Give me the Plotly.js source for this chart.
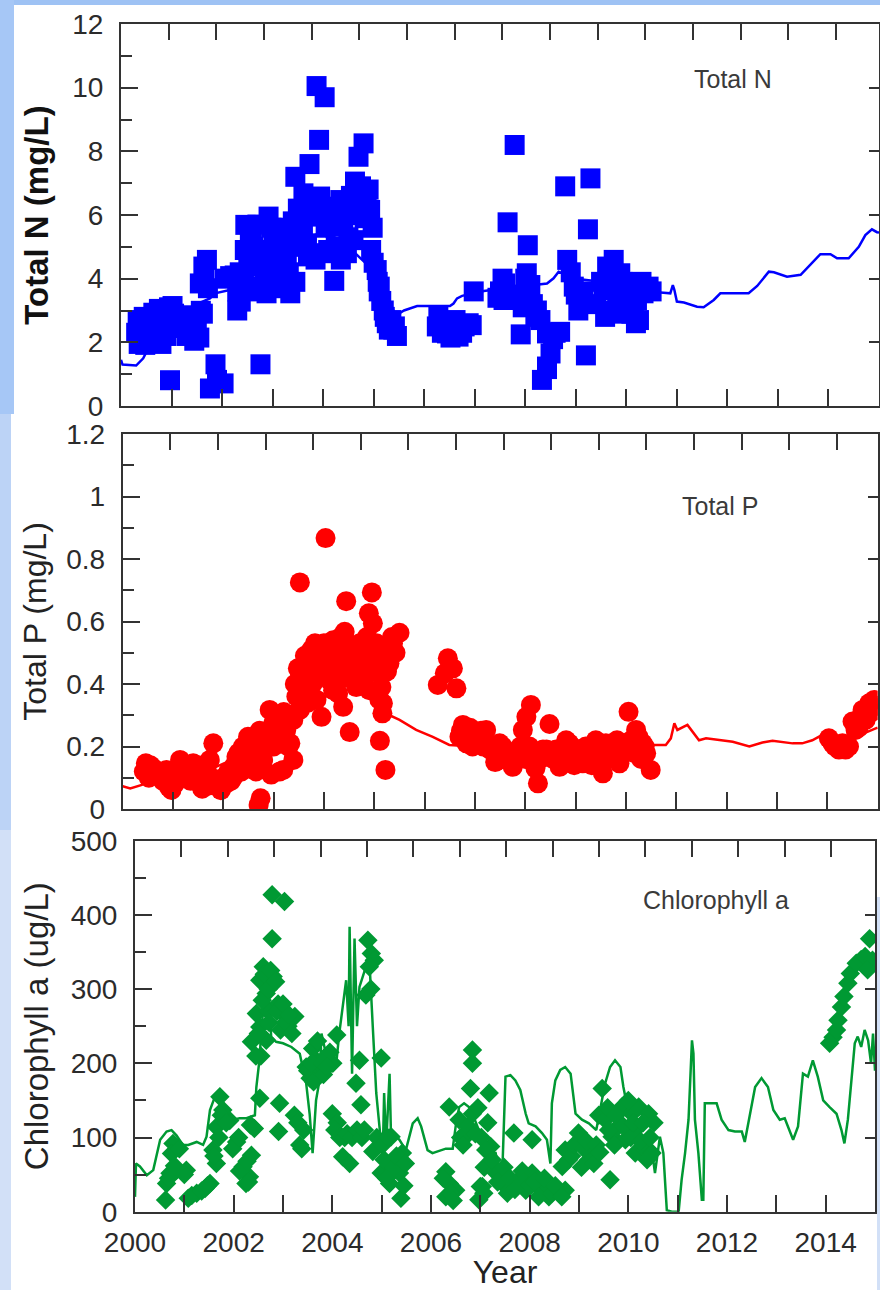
<!DOCTYPE html>
<html>
<head>
<meta charset="utf-8">
<script src="https://cdn.plot.ly/plotly-3.0.1.min.js"></script>
<style>html,body{margin:0;padding:0;background:#fff;}#chart{width:880px;height:1290px;}</style>
</head>
<body>
<div id="chart"></div>
<script>
// ---------------- Total N (mg/L) ----------------
const tnYear = [2000.35,2000.42,2000.48,2000.51,2000.58,2000.64,2000.66,2000.74,2000.8,2000.86,2000.95,2001.02,2001.08,2001.15,2001.22,2001.4,2001.45,2001.58,
  2000.3,2000.33,2000.38,2000.45,2000.55,2000.6,2000.7,2000.75,2000.9,2000.92,2001.0,2001.05,2001.12,2001.25,2001.3,2001.35,2001.5,2001.55,2001.62,
  2000.97,2001.87,2001.76,2001.9,2002.03,2002.76,
  2001.63,2001.56,2001.7,2002.16,2002.37,2001.65,2001.72,2002.05,2002.25,2002.3,
  2002.46,2002.92,2002.62,2003.02,2002.69,2003.08,2002.75,2003.35,2003.21,2003.48,2002.88,2003.15,2002.52,2002.42,2002.95,2003.28,2003.4,2002.59,
  2002.3,2002.35,2002.45,2002.5,2002.55,2002.65,2002.7,2002.8,2002.85,2002.98,2003.05,2003.12,2003.18,2003.25,2003.32,2003.38,2003.45,2003.5,2003.55,
  2003.45,2003.73,2003.87,2004.03,2003.92,2003.74,2003.81,2003.97,2003.68,2003.61,2003.94,2004.22,
  2003.65,2003.7,2003.8,2003.85,2004.0,2004.05,2004.1,2003.6,
  2004.34,2004.4,2004.47,2004.2,2004.6,2004.7,2004.8,2004.63,2004.86,2004.93,2004.73,2004.95,2005.06,2005.12,2005.1,2005.2,2005.26,2005.39,2005.46,
  2004.25,2004.3,2004.35,2004.45,2004.5,2004.55,2004.65,2004.75,2004.82,2004.9,2004.98,2005.0,2005.08,2005.15,2005.22,2005.3,2005.35,2005.42,
  2006.28,2006.45,2006.58,2006.68,2006.94,2006.35,2006.52,2006.8,2006.98,2006.25,2006.4,2006.6,2006.75,2006.88,2006.62,
  2007.6,2007.57,2007.5,2007.65,2007.79,2008.05,2008.03,2008.07,2008.23,2008.3,2007.91,2008.43,2008.69,2008.5,2008.43,2008.33,2008.43,
  2007.45,2007.55,2007.7,2007.85,2007.95,2008.0,2008.15,2008.2,2008.1,2008.55,2008.6,
  2008.79,2008.83,2008.96,2009.09,2009.29,2009.24,2009.2,2009.62,2009.75,2009.55,2009.58,2009.88,2009.95,2009.82,2010.19,2010.44,2010.34,2010.21,
  2008.9,2009.0,2009.05,2009.15,2009.4,2009.5,2009.65,2009.7,2009.78,2009.85,2009.92,2010.0,2010.05,2010.1,2010.15,2010.25,2010.3,2010.5];
const tnVal = [1.95,2.35,1.92,2.6,2.75,2.93,2.2,2.7,1.95,2.45,3.1,3.14,2.7,2.45,2.85,2.3,2.05,2.99,
  2.3,2.7,2.1,2.8,2.4,2.1,2.4,3.05,2.2,2.8,2.5,2.9,2.6,2.6,2.2,2.5,2.4,2.15,2.9,
  0.81,1.31,0.55,0.82,0.71,1.31,
  4.38,3.85,4.59,4.08,3.28,4.0,3.7,4.0,4.1,3.0,
  5.69,5.95,5.0,5.21,4.38,4.38,3.75,3.54,5.32,5.53,3.54,4.06,4.59,4.06,4.59,4.69,5.8,5.32,
  3.6,4.2,4.9,3.6,5.4,4.7,5.7,4.9,4.2,5.6,4.8,3.7,4.6,5.6,4.2,5.0,3.9,6.2,5.2,
  7.2,7.6,10.05,9.7,8.36,6.47,5.95,4.8,5.11,6.68,6.58,3.93,
  6.0,4.7,6.3,4.6,6.2,5.6,4.9,5.5,
  6.47,5.63,4.8,6.26,5.21,7.83,8.25,7.05,6.47,6.16,6.26,4.9,4.27,3.75,3.6,3.0,2.6,2.4,2.2,
  5.0,5.8,4.6,6.0,5.3,6.6,6.8,6.9,5.9,6.8,5.6,4.5,3.9,3.3,2.8,2.4,2.7,2.5,
  2.8,2.28,2.49,2.18,2.54,2.3,2.15,2.5,3.6,2.5,2.6,2.25,2.3,2.6,2.7,
  3.85,3.33,3.6,5.77,8.2,5.05,4.17,3.54,3.0,2.7,2.25,2.28,2.33,1.65,1.24,0.82,1.16,
  3.4,4.0,3.5,3.4,3.1,4.0,3.2,2.8,3.8,2.1,2.3,
  6.9,4.59,3.75,3.33,7.15,5.55,1.59,4.38,4.59,3.64,2.8,4.17,3.54,3.33,2.6,3.75,3.54,3.33,
  4.2,3.5,3.0,3.6,3.2,3.9,3.0,4.0,3.7,2.9,3.9,3.2,3.6,2.9,3.1,2.7,3.9,3.6];
const tnLineYear = [2000.0,2000.03,2000.3,2000.44,2000.6,2001.0,2001.5,2001.76,2001.86,2002.22,2002.3,2002.7,2003.2,2003.6,2003.74,2003.94,2004.14,2004.5,2004.9,2005.2,2005.45,2005.52,2005.6,2005.86,2006.51,2006.58,2006.65,2006.75,2007.18,2007.6,2008.1,2008.23,2008.43,2008.56,2008.66,2009.0,2009.5,2010.0,2010.4,2010.74,2010.87,2010.92,2010.95,2011.0,2011.14,2011.4,2011.53,2011.73,2011.86,2012.13,2012.42,2012.59,2012.82,2012.92,2013.18,2013.45,2013.64,2013.84,2014.04,2014.17,2014.4,2014.6,2014.73,2014.86,2014.96,2015.0];
const tnLineVal = [1.45,1.3,1.27,1.5,2.0,2.6,3.2,3.38,3.54,3.66,3.7,4.2,4.8,5.1,5.32,5.42,5.27,5.0,4.4,3.5,2.85,2.91,3.0,3.14,3.14,3.22,3.38,3.46,3.61,3.7,3.8,3.83,3.85,4.01,4.22,4.0,3.9,3.7,3.6,3.56,3.54,3.8,3.65,3.28,3.25,3.12,3.1,3.33,3.54,3.54,3.54,3.77,4.22,4.2,4.06,4.12,4.43,4.77,4.77,4.64,4.64,5.0,5.37,5.55,5.46,5.45];

// ---------------- Total P (mg/L) ----------------
const tpYear = [2000.46,2000.48,2000.61,2000.74,2000.87,2000.97,2001.04,2001.14,2001.24,2001.4,2001.53,2001.6,2001.67,2001.73,2001.8,2001.9,2002.06,2002.2,2002.26,2002.39,2002.49,2002.33,2002.59,2002.74,2002.7,
  2000.42,2000.52,2000.55,2000.67,2000.8,2000.92,2001.0,2001.1,2001.2,2001.3,2001.35,2001.45,2001.5,2001.58,2001.7,2001.85,2001.95,2002.0,2002.1,2002.15,2002.22,2002.3,2002.36,2002.42,2002.45,2002.52,2002.55,2002.62,2002.65,2002.68,2002.72,2002.82,2002.9,2002.95,2003.0,2003.02,2003.1,2003.12,2003.15,2003.2,2003.28,2003.33,
  2002.86,2002.79,2002.99,2002.92,2003.06,2003.19,2003.39,2003.29,2003.25,2003.39,2003.52,2003.52,2003.58,2003.45,2003.95,2003.82,2003.88,2004.05,2003.72,2003.78,
  2003.42,2003.48,2003.55,2003.62,2003.65,2003.68,2003.75,2003.8,2003.85,2003.9,2003.98,2004.0,2004.08,2004.12,2004.15,2004.22,2004.28,2004.33,2004.36,2004.45,2004.48,2004.55,2004.6,2004.68,2004.75,2004.8,2004.85,2004.9,2004.92,2005.0,2005.07,2005.1,2005.2,2005.25,2005.35,2005.42,
  2003.52,2004.03,2004.44,2004.51,2004.18,2004.41,2004.18,2004.38,2004.31,2004.25,2004.71,2004.78,2004.64,2004.95,2004.89,2004.97,2005.11,2005.22,2005.14,2005.17,2005.16,2005.04,2005.17,2005.3,2005.5,2005.37,2005.3,
  2006.46,2006.56,2006.63,2006.26,2006.4,2006.76,2006.83,2007.09,2007.16,2006.69,2006.72,2006.8,2006.9,2006.95,2007.02,2007.12,
  2007.19,2007.22,2007.62,2007.82,2008.08,2008.35,2007.49,2008.25,2008.11,2008.02,2007.95,2008.48,2008.61,2008.81,2008.68,2009.01,2009.14,2009.4,2009.54,2009.27,2009.73,2009.87,2010.05,2010.2,2010.33,2010.4,2010.49,2009.6,2008.87,2007.75,
  2007.3,2007.4,2007.55,2007.68,2007.9,2008.0,2008.15,2008.2,2008.3,2008.42,2008.55,2008.72,2008.78,2008.92,2008.97,2009.08,2009.2,2009.32,2009.45,2009.5,2009.65,2009.78,2009.82,2009.95,2010.1,2010.15,2010.25,2010.3,2010.37,
  2014.03,2014.23,2014.43,2014.3,2014.5,2014.7,2014.83,2014.93,2014.56,2014.76,2014.1,2014.15,2014.36,2014.62,2014.68,2014.88,2014.97];
const tpVal = [0.146,0.114,0.13,0.103,0.125,0.061,0.082,0.157,0.125,0.146,0.082,0.103,0.125,0.157,0.21,0.071,0.082,0.103,0.167,0.2,0.231,0.135,0.167,0.034,0.013,
  0.12,0.1,0.14,0.115,0.09,0.07,0.095,0.13,0.145,0.11,0.09,0.12,0.14,0.065,0.075,0.095,0.06,0.1,0.12,0.09,0.14,0.18,0.12,0.16,0.2,0.14,0.19,0.22,0.12,0.18,0.25,0.19,0.24,0.11,0.2,0.3,0.27,0.12,0.23,0.31,0.29,0.21,
  0.21,0.157,0.274,0.317,0.295,0.125,0.157,0.2,0.253,0.285,0.317,0.434,0.39,0.36,0.295,0.53,0.466,0.509,0.487,0.402,
  0.4,0.45,0.36,0.49,0.42,0.34,0.51,0.47,0.35,0.5,0.43,0.53,0.48,0.41,0.52,0.5,0.37,0.55,0.46,0.5,0.42,0.48,0.52,0.45,0.5,0.42,0.55,0.38,0.48,0.44,0.46,0.35,0.51,0.44,0.55,0.5,
  0.725,0.867,0.665,0.246,0.54,0.567,0.38,0.327,0.423,0.466,0.53,0.466,0.39,0.693,0.626,0.594,0.218,0.125,0.39,0.338,0.306,0.53,0.487,0.509,0.564,0.53,0.466,
  0.482,0.45,0.386,0.397,0.434,0.269,0.21,0.242,0.2,0.231,0.25,0.23,0.26,0.2,0.22,0.25,
  0.22,0.253,0.157,0.178,0.2,0.19,0.21,0.082,0.333,0.295,0.253,0.272,0.19,0.22,0.135,0.178,0.146,0.22,0.114,0.167,0.2,0.146,0.311,0.253,0.21,0.178,0.125,0.21,0.21,0.135,
  0.19,0.15,0.2,0.17,0.2,0.16,0.18,0.13,0.16,0.19,0.16,0.18,0.15,0.2,0.14,0.19,0.2,0.14,0.17,0.2,0.16,0.18,0.22,0.2,0.22,0.18,0.23,0.16,0.2,
  0.226,0.19,0.2,0.21,0.28,0.317,0.338,0.349,0.253,0.285,0.21,0.2,0.19,0.26,0.3,0.31,0.33];
const tpLineYear = [2000.0,2000.15,2000.38,2000.6,2001.5,2002.5,2003.0,2003.5,2004.0,2004.5,2005.0,2005.3,2005.5,2005.83,2006.16,2006.49,2007.0,2008.0,2009.0,2010.0,2010.56,2010.79,2010.89,2010.96,2011.02,2011.22,2011.45,2011.59,2011.85,2012.12,2012.45,2012.71,2012.91,2013.31,2013.5,2013.7,2013.9,2014.4,2014.96,2015.0];
const tpLineVal = [0.073,0.066,0.077,0.1,0.11,0.18,0.26,0.36,0.45,0.45,0.38,0.3,0.285,0.253,0.231,0.205,0.2,0.19,0.19,0.2,0.205,0.205,0.226,0.274,0.253,0.269,0.22,0.226,0.22,0.215,0.2,0.213,0.218,0.21,0.21,0.22,0.237,0.22,0.258,0.26];

// ---------------- Chlorophyll a (ug/L) ----------------
const chlYear = [2000.62,2000.71,2000.84,2000.64,2000.77,2000.74,2001.04,2001.08,2001.25,2001.42,2001.52,2001.58,2001.65,2001.72,2001.78,2001.65,2001.92,2002.06,2002.19,2002.32,2002.25,2002.36,2002.34,2002.53,
  2000.68,2000.8,2000.9,2001.0,2001.15,2001.35,2001.47,2001.6,2001.7,2001.75,2001.85,2001.98,2002.1,2002.12,2002.27,2002.3,2002.42,
  2002.36,2002.46,2002.53,2002.6,2002.8,2002.66,2002.53,2002.66,2002.78,2003.03,2002.78,2002.91,2002.93,2003.07,2003.24,2003.23,2003.34,2003.47,2003.67,2003.87,2004.01,2004.0,2004.09,
  2002.9,2003.1,2002.7,2002.55,2003.55,2003.75,2003.95,2003.6,2004.1,
  2002.45,2002.5,2002.58,2002.62,2002.7,2002.72,2002.75,2002.85,2002.88,2002.95,2003.0,2003.05,2003.12,2003.18,2003.3,2003.38,2003.42,2003.5,2003.58,2003.62,2003.7,2003.8,2003.82,2003.9,
  2004.21,2004.35,2004.48,2004.58,2004.55,2004.68,2004.72,2004.79,2004.85,2004.82,2004.99,2004.99,2005.16,2005.36,2005.42,2005.39,2005.19,
  2004.05,2004.15,2004.25,2004.3,2004.4,2004.5,2004.6,2004.65,2004.75,2004.78,2004.9,2005.02,2005.05,2005.1,2005.12,2005.25,2005.3,2005.45,2005.48,
  2006.3,2006.37,2006.3,2006.5,2006.37,2006.57,2006.7,2006.84,2006.84,2006.84,2006.8,2007.0,2006.97,2007.18,2007.21,
  2006.25,2006.4,2006.45,2006.6,2006.65,2006.75,2006.9,2006.95,2007.02,2007.08,2007.15,2007.28,
  2007.11,2007.24,2007.04,2007.07,2007.44,2007.51,2007.68,2007.78,2007.92,2008.05,2008.05,2008.25,2008.39,2008.59,2008.72,2008.72,2008.79,2008.66,2008.99,2009.2,2009.26,
  2007.35,2007.48,2007.55,2007.6,2007.7,2007.85,2007.88,2008.0,2008.1,2008.18,2008.3,2008.45,2008.52,2008.65,2008.85,2008.9,2009.05,2009.1,2009.15,2009.3,2009.35,2009.4,2009.42,
  2009.47,2009.53,2009.67,2009.8,2009.63,2009.87,2010.07,2010.21,2010.41,2009.94,2010.14,2010.14,2010.34,2010.48,
  2009.58,2009.6,2009.72,2009.75,2009.9,2010.0,2010.05,2010.1,2010.25,2010.3,2010.38,2010.44,2010.52,
  2014.08,2014.15,2014.22,2014.25,2014.32,2014.37,2014.45,2014.5,2014.62,2014.72,2014.8,2014.89,2014.95,2014.85];
const chlVal = [15.7,51.7,56,38,92,78.6,56,18,24.7,31.4,38,83,65,155,137,114,123,94,60.6,47,38,76,117,153,
  45,62,85,50,22,28,35,75,100,130,120,85,100,55,68,40,112,
  229,267,312,330,317,294,249,231,427,418,368,108,146,263,263,130,90,195,204,209,200,132,238,
  280,250,270,210,180,190,215,220,120,
  210,240,285,320,300,255,325,310,270,245,280,255,265,240,120,85,110,190,200,175,230,200,185,195,
  74,65,173,144,204,292,366,348,339,81,207,52,38,52,79,18,101,
  110,100,100,105,100,110,100,110,330,300,100,90,70,45,100,60,75,35,65,
  54,38,20,29,141,124,101,132,218,200,166,34,16,160,88,
  45,25,15,100,90,115,105,140,100,60,120,55,
  83,70,34,25,47,34,106,43,29,52,97,29,20,29,29,83,70,61,106,70,79,
  40,60,25,45,30,55,40,35,40,20,45,25,35,20,75,90,60,85,95,65,90,130,80,
  166,124,101,115,43,141,132,141,132,97,110,79,83,79,
  140,110,90,130,115,150,100,120,95,120,70,100,120,
  227,235,245,258,276,290,308,321,335,340,344,368,339,326];
const chlLineYear = [2000.0,2000.02,2000.1,2000.24,2000.37,2000.51,2000.64,2000.74,2000.84,2000.97,2001.08,2001.25,2001.38,2001.45,2001.52,2001.62,2001.72,2001.82,2001.99,2002.12,2002.26,2002.43,2002.46,2002.53,2002.56,2002.63,2002.7,2002.73,2002.76,2002.86,2003.0,2003.17,2003.34,2003.47,2003.54,2003.6,2003.67,2003.74,2003.78,2003.87,2004.0,2004.08,2004.14,2004.28,2004.33,2004.35,2004.4,2004.45,2004.5,2004.55,2004.68,2004.75,2004.82,2004.89,2005.02,2005.05,2005.09,2005.16,2005.19,2005.22,2005.36,2005.49,2005.63,2005.73,2005.8,2005.93,2006.03,2006.3,2006.44,2006.5,2006.57,2006.67,2006.77,2006.84,2006.97,2007.11,2007.21,2007.31,2007.38,2007.44,2007.51,2007.61,2007.71,2007.81,2007.92,2007.98,2008.12,2008.25,2008.35,2008.42,2008.45,2008.52,2008.62,2008.72,2008.83,2008.93,2009.06,2009.2,2009.35,2009.53,2009.63,2009.73,2009.84,2009.9,2010.07,2010.2,2010.34,2010.45,2010.54,2010.64,2010.71,2010.78,2010.88,2011.02,2011.08,2011.15,2011.22,2011.29,2011.32,2011.35,2011.42,2011.49,2011.52,2011.55,2011.69,2011.79,2011.89,2012.03,2012.16,2012.3,2012.36,2012.46,2012.57,2012.7,2012.83,2012.94,2013.07,2013.17,2013.24,2013.34,2013.44,2013.54,2013.64,2013.74,2013.84,2013.95,2014.08,2014.22,2014.32,2014.38,2014.45,2014.52,2014.59,2014.65,2014.72,2014.79,2014.86,2014.92,2014.96,2015.0];
const chlLineVal = [20,65,61,49,56,97,108,110,103,90,90,94,90,101,137,155,160,141,124,126,126,130,168,209,249,285,294,276,236,229,227,222,213,173,132,79,150,177,240,213,204,200,240,312,250,384,186,368,250,303,330,340,249,160,70,160,88,186,100,106,97,83,119,126,115,83,79,85,85,115,141,146,141,132,110,83,79,79,56,43,182,184,177,164,132,119,115,106,97,65,146,177,191,195,186,132,124,119,110,173,195,204,195,168,110,100,83,97,52,101,79,2,0,0,43,79,124,231,213,124,79,16,16,146,146,146,124,110,108,108,94,132,168,180,168,137,124,126,115,97,115,186,182,204,182,150,141,132,110,92,124,177,227,236,222,245,231,200,240,190];

// ---------------- axis tick labels ----------------
const yearTicks = [2000,2002,2004,2006,2008,2010,2012,2014];
const tnTicks = [0,2,4,6,8,10,12];
const tpTicks = [0,0.2,0.4,0.6,0.8,1,1.2];
const chlTicks = [0,100,200,300,400,500];

const W = 880, H = 1290;
const px = v => v / W;
const py = v => 1 - v / H;

const AX = '#333333';
const tickFont = {family: 'Liberation Sans, Arial, sans-serif', size: 28, color: '#2b2b2b'};

function mainX(dom, anchor, opts) {
  return Object.assign({
    domain: dom, anchor: anchor, range: [2000, 2015], showgrid: false, zeroline: false,
    showline: true, mirror: true, linecolor: AX, linewidth: 2,
    ticks: 'inside', ticklen: 17, tickwidth: 2, tickcolor: AX, dtick: 1, tick0: 2000,
    showticklabels: false, tickfont: tickFont
  }, opts || {});
}
function mainY(dom, anchor, range, ticks, minorStep, opts) {
  return Object.assign({
    domain: dom, anchor: anchor, range: range, showgrid: false, zeroline: false,
    showline: true, mirror: true, linecolor: AX, linewidth: 2,
    ticks: 'inside', ticklen: 17, tickwidth: 2, tickcolor: AX,
    tickmode: 'array', tickvals: ticks, ticktext: ticks.map(String),
    minor: {dtick: minorStep, tick0: 0, ticks: 'inside', ticklen: 11, tickwidth: 2, tickcolor: AX, showgrid: false},
    tickfont: tickFont, ticklabelstandoff: 10
  }, opts || {});
}
function topX(over, anchor, span) {
  return {overlaying: over, anchor: anchor, side: 'top', range: [2000, 2000 + span], showgrid: false, zeroline: false,
    showline: false, ticks: 'inside', ticklen: 16, tickwidth: 2, tickcolor: AX, dtick: 1, tick0: 2000, showticklabels: false};
}
function rightY(over, anchor, range, ticks) {
  return {overlaying: over, anchor: anchor, side: 'right', range: range, showgrid: false, zeroline: false,
    showline: false, ticks: 'inside', ticklen: 10, tickwidth: 2, tickcolor: AX, tickmode: 'array', tickvals: ticks, showticklabels: false};
}

const d1x = [px(121), px(879)], d1y = [py(406), py(24)];
const d2x = [px(122.7), px(877.7)], d2y = [py(809), py(434)];
const d3x = [px(135), px(875)], d3y = [py(1211.7), py(840.7)];

const traces = [
  {x: tnLineYear, y: tnLineVal, xaxis: 'x', yaxis: 'y', mode: 'lines', line: {color: '#0000ff', width: 2.5}},
  {x: tnYear, y: tnVal, xaxis: 'x', yaxis: 'y', mode: 'markers', marker: {symbol: 'square', size: 20, color: '#0000ff', line: {width: 0}}},
  {x: tpLineYear, y: tpLineVal, xaxis: 'x2', yaxis: 'y2', mode: 'lines', line: {color: '#ff0000', width: 2.5}},
  {x: tpYear, y: tpVal, xaxis: 'x2', yaxis: 'y2', mode: 'markers', marker: {symbol: 'circle', size: 20, color: '#ff0000', line: {width: 0}}},
  {x: chlLineYear, y: chlLineVal, xaxis: 'x3', yaxis: 'y3', mode: 'lines', line: {color: '#009933', width: 2.5}},
  {x: chlYear, y: chlVal, xaxis: 'x3', yaxis: 'y3', mode: 'markers', marker: {symbol: 'diamond', size: 15, color: '#009933', line: {width: 0}}},
  {x: [], y: [], xaxis: 'x4', yaxis: 'y4', mode: 'markers', hoverinfo: 'skip'},
  {x: [], y: [], xaxis: 'x5', yaxis: 'y5', mode: 'markers', hoverinfo: 'skip'},
  {x: [], y: [], xaxis: 'x6', yaxis: 'y6', mode: 'markers', hoverinfo: 'skip'}
];

const layout = {
  width: W, height: H, margin: {l: 0, r: 0, t: 0, b: 0},
  paper_bgcolor: '#ffffff', plot_bgcolor: '#ffffff', showlegend: false, hovermode: false,
  font: {family: 'Liberation Sans, Arial, sans-serif', color: '#222'},
  xaxis: mainX(d1x, 'y'),
  yaxis: mainY(d1y, 'x', [0, 12], tnTicks, 1, {title: {text: 'Total N (mg/L)', font: {size: 33, weight: 700, color: '#111'}, standoff: 14}}),
  xaxis2: mainX(d2x, 'y2'),
  yaxis2: mainY(d2y, 'x2', [0, 1.2], tpTicks, 0.1, {title: {text: 'Total P (mg/L)', font: {size: 32, color: '#222'}, standoff: 10}}),
  xaxis3: mainX(d3x, 'y3', {showticklabels: true, tickmode: 'array', tickvals: yearTicks, ticktext: yearTicks.map(String),
    minor: {dtick: 1, tick0: 2000, ticks: 'inside', ticklen: 17, tickwidth: 2, tickcolor: AX, showgrid: false},
    ticklabelstandoff: 5, title: {text: 'Year', font: {size: 32, color: '#222'}, standoff: 8}}),
  yaxis3: mainY(d3y, 'x3', [0, 500], chlTicks, 50, {title: {text: 'Chlorophyll a (ug/L)', font: {size: 33, color: '#222'}, standoff: 12}}),
  xaxis4: topX('x', 'y4', 15.9),
  yaxis4: rightY('y', 'x4', [0, 12], tnTicks),
  xaxis5: topX('x2', 'y5', 15.86),
  yaxis5: rightY('y2', 'x5', [0, 1.2], tpTicks),
  xaxis6: topX('x3', 'y6', 15.95),
  yaxis6: rightY('y3', 'x6', [0, 500], chlTicks),
  annotations: [
    {text: 'Total N', xref: 'paper', yref: 'paper', x: px(733), y: py(79), xanchor: 'center', yanchor: 'middle', showarrow: false, font: {size: 25, color: '#3a3a3a'}},
    {text: 'Total P', xref: 'paper', yref: 'paper', x: px(720), y: py(506), xanchor: 'center', yanchor: 'middle', showarrow: false, font: {size: 25, color: '#3a3a3a'}},
    {text: 'Chlorophyll a', xref: 'paper', yref: 'paper', x: px(716), y: py(900), xanchor: 'center', yanchor: 'middle', showarrow: false, font: {size: 25, color: '#3a3a3a'}}
  ],
  shapes: [
    {type: 'rect', xref: 'paper', yref: 'paper', x0: 0, x1: 1, y0: py(5), y1: 1, fillcolor: '#9ec2f4', line: {width: 0}, layer: 'below'},
    {type: 'rect', xref: 'paper', yref: 'paper', x0: 0, x1: px(14), y0: py(414), y1: 1, fillcolor: '#a6c7f6', line: {width: 0}, layer: 'below'},
    {type: 'rect', xref: 'paper', yref: 'paper', x0: 0, x1: px(11), y0: py(830), y1: py(414), fillcolor: '#bcd3f6', line: {width: 0}, layer: 'below'},
    {type: 'rect', xref: 'paper', yref: 'paper', x0: 0, x1: px(11), y0: 0, y1: py(830), fillcolor: '#d2e0f7', line: {width: 0}, layer: 'below'},
    {type: 'rect', xref: 'paper', yref: 'paper', x0: px(877), x1: 1, y0: 0, y1: py(897), fillcolor: '#d2e0f7', line: {width: 0}, layer: 'below'}
  ]
};

Plotly.newPlot('chart', traces, layout, {staticPlot: true, displayModeBar: false});
</script>
</body>
</html>
